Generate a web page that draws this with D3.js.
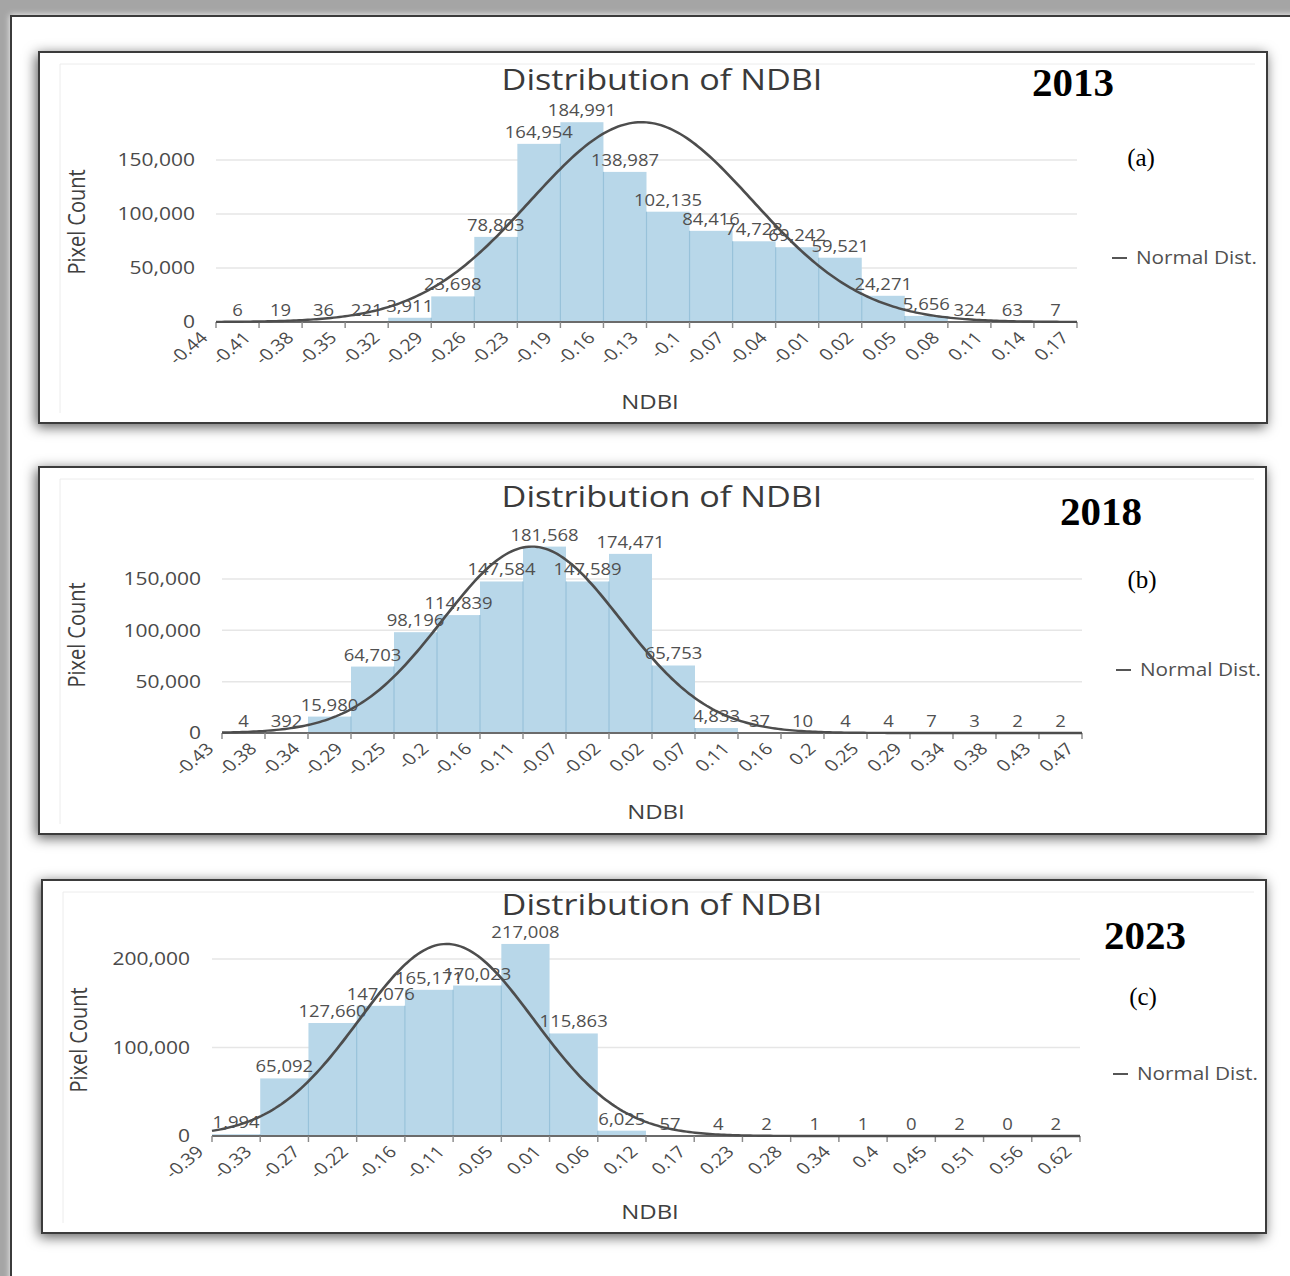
<!DOCTYPE html>
<html>
<head>
<meta charset="utf-8">
<script src="https://cdn.jsdelivr.net/npm/d3@7"></script>
<style>
  html, body { margin: 0; padding: 0; background: #a5a5a5; }
  svg { display: block; }
</style>
</head>
<body>
<svg id="fig" width="1290" height="1276"></svg>
<script>
// ---- data: NDBI histogram bin edges (tick labels) and pixel counts per bin ----
const years = ["2013", "2018", "2023"];
const panelTags = ["(a)", "(b)", "(c)"];

const edges2013 = ["-0.44","-0.41","-0.38","-0.35","-0.32","-0.29","-0.26","-0.23","-0.19","-0.16","-0.13",
                   "-0.1","-0.07","-0.04","-0.01","0.02","0.05","0.08","0.11","0.14","0.17"];
const counts2013 = [6, 19, 36, 221, 3911, 23698, 78803, 164954, 184991, 138987,
                    102135, 84416, 74728, 69242, 59521, 24271, 5656, 324, 63, 7];

const edges2018 = ["-0.43","-0.38","-0.34","-0.29","-0.25","-0.2","-0.16","-0.11","-0.07","-0.02","0.02",
                   "0.07","0.11","0.16","0.2","0.25","0.29","0.34","0.38","0.43","0.47"];
const counts2018 = [4, 392, 15980, 64703, 98196, 114839, 147584, 181568, 147589, 174471,
                    65753, 4833, 37, 10, 4, 4, 7, 3, 2, 2];

const edges2023 = ["-0.39","-0.33","-0.27","-0.22","-0.16","-0.11","-0.05","0.01","0.06","0.12",
                   "0.17","0.23","0.28","0.34","0.4","0.45","0.51","0.56","0.62"];
const counts2023 = [1994, 65092, 127660, 147076, 165171, 170023, 217008, 115863, 6025,
                    57, 4, 2, 1, 1, 0, 2, 0, 2];

const yTicks2013 = [0, 50000, 100000, 150000];
const yTicks2018 = [0, 50000, 100000, 150000];
const yTicks2023 = [0, 100000, 200000];

const chartTitle = "Distribution of NDBI";
const xTitle = "NDBI";
const yTitle = "Pixel Count";
const legendText = "Normal Dist.";

// ---- layout of each framed panel (page pixels) ----
const layout = [
  { box: [39, 52, 1228, 371],  x0: 216, x1: 1077, yBase: 322,  yRef: 160, yRefVal: 150000,
    yLabEnd: 195, yTitlePos: [78, 222],  titleY: 90,  xTitlePos: [650, 409],  legend: [1112, 258],
    yearPos: [1073, 96],  tagPos: [1141, 166] },
  { box: [39, 467, 1227, 367], x0: 222, x1: 1082, yBase: 733,  yRef: 579, yRefVal: 150000,
    yLabEnd: 201, yTitlePos: [78, 635],  titleY: 507, xTitlePos: [656, 819],  legend: [1116, 670],
    yearPos: [1101, 525], tagPos: [1142, 588] },
  { box: [42, 880, 1224, 353], x0: 212, x1: 1080, yBase: 1136, yRef: 959, yRefVal: 200000,
    yLabEnd: 190, yTitlePos: [80, 1040], titleY: 915, xTitlePos: [650, 1219], legend: [1113, 1074],
    yearPos: [1145, 949], tagPos: [1143, 1005] }
];

const panels = [
  { edges: edges2013, counts: counts2013, yTicks: yTicks2013 },
  { edges: edges2018, counts: counts2018, yTicks: yTicks2018 },
  { edges: edges2023, counts: counts2023, yTicks: yTicks2023 }
];

// chart graphics are a horizontally widened export
const SX = 1.2;
const FONT = "'Open Sans', 'Noto Sans', sans-serif";
const SERIF = "'Liberation Serif', 'Times New Roman', serif";

const svg = d3.select("#fig");
const defs = svg.append("defs");

const sh = defs.append("filter").attr("id", "shadow")
  .attr("x", "-10%").attr("y", "-10%").attr("width", "120%").attr("height", "125%");
sh.append("feDropShadow").attr("dx", -2).attr("dy", 3).attr("stdDeviation", 6.5)
  .attr("flood-color", "#000").attr("flood-opacity", 0.65);

const sh2 = defs.append("filter").attr("id", "glow")
  .attr("x", "-5%").attr("y", "-5%").attr("width", "110%").attr("height", "110%");
sh2.append("feDropShadow").attr("dx", 0).attr("dy", 0).attr("stdDeviation", 3)
  .attr("flood-color", "#fff").attr("flood-opacity", 0.9);

// outer page frame
svg.append("rect").attr("x", 11).attr("y", 16).attr("width", 1320).attr("height", 1320)
  .attr("fill", "#fff").attr("stroke", "#3a3a3a").attr("stroke-width", 2)
  .attr("filter", "url(#glow)");

panels.forEach((p, k) => {
  const L = layout[k];
  const [bx, by, bw, bh] = L.box;

  // framed panel with drop shadow
  svg.append("rect").attr("x", bx).attr("y", by).attr("width", bw).attr("height", bh)
    .attr("fill", "#fff").attr("stroke", "#3a3a3a").attr("stroke-width", 2)
    .attr("filter", "url(#shadow)");

  // faint edge of the embedded chart image
  svg.append("path")
    .attr("d", `M${bx + 21},${by + bh - 10}V${by + 12}H${bx + bw - 12}`)
    .attr("fill", "none").attr("stroke", "#ececec").attr("stroke-width", 1);

  const nBins = p.counts.length;
  const g = svg.append("g").attr("transform", `scale(${SX},1)`);

  const x = d3.scaleLinear().domain([0, nBins]).range([L.x0 / SX, L.x1 / SX]);
  const y = d3.scaleLinear().domain([0, L.yRefVal]).range([L.yBase, L.yRef]);
  const fmt = d3.format(",");

  // gridlines
  g.append("g").selectAll("line").data(p.yTicks.filter(v => v > 0)).join("line")
    .attr("x1", x(0)).attr("x2", x(nBins))
    .attr("y1", d => y(d)).attr("y2", d => y(d))
    .attr("stroke", "#e6e6e6").attr("stroke-width", 1.5);

  // y tick labels
  g.append("g").selectAll("text").data(p.yTicks).join("text")
    .attr("x", L.yLabEnd / SX).attr("y", d => y(d)).attr("dy", "0.36em")
    .attr("text-anchor", "end").attr("font-family", FONT).attr("font-size", 17.5)
    .attr("fill", "#4a4a4a").text(d => fmt(d));

  // histogram bars
  g.append("g").selectAll("rect").data(p.counts).join("rect")
    .attr("x", (d, i) => x(i)).attr("width", (d, i) => x(i + 1) - x(i))
    .attr("y", d => y(d)).attr("height", d => y(0) - y(d))
    .attr("fill", "#b8d7e9");

  // bar separators
  g.append("g").selectAll("path").data(p.counts).join("path")
    .attr("d", (d, i) => {
      const left = i === 0 ? 0 : p.counts[i - 1];
      const h = Math.min(d, left);
      return `M${x(i)},${y(0)}V${y(h)}`;
    })
    .attr("stroke", "#98c2da").attr("stroke-width", 1).attr("fill", "none");

  // normal curve fitted from the histogram's mean and spread, scaled to the tallest bin
  const total = d3.sum(p.counts);
  const mean = d3.sum(p.counts, (c, i) => c * (i + 0.5)) / total;
  const sd = Math.sqrt(d3.sum(p.counts, (c, i) => c * (i + 0.5 - mean) ** 2) / total);
  const peak = d3.max(p.counts);
  const samples = d3.range(0, nBins + 0.001, nBins / 300);
  const line = d3.line()
    .x(t => x(t))
    .y(t => y(peak * Math.exp(-0.5 * ((t - mean) / sd) ** 2)));

  // x axis baseline + ticks
  g.append("line").attr("x1", x(0)).attr("x2", x(nBins))
    .attr("y1", y(0)).attr("y2", y(0))
    .attr("stroke", "#6b6b6b").attr("stroke-width", 2);
  g.append("g").selectAll("line").data(p.edges).join("line")
    .attr("x1", (d, i) => x(i)).attr("x2", (d, i) => x(i))
    .attr("y1", y(0)).attr("y2", y(0) + 6)
    .attr("stroke", "#8a8a8a").attr("stroke-width", 1.2);

  g.append("path").datum(samples).attr("d", line)
    .attr("fill", "none").attr("stroke", "#4d4d4d").attr("stroke-width", 2.4);

  // rotated edge labels
  g.append("g").selectAll("text").data(p.edges).join("text")
    .attr("transform", (d, i) => `translate(${x(i) - 6},${y(0) + 17}) rotate(-45)`)
    .attr("text-anchor", "end").attr("font-family", FONT).attr("font-size", 16.3)
    .attr("fill", "#4a4a4a").text(d => d);

  // count labels above bars
  g.append("g").selectAll("text").data(p.counts).join("text")
    .attr("x", (d, i) => (x(i) + x(i + 1)) / 2).attr("y", d => y(d) - 6)
    .attr("text-anchor", "middle").attr("font-family", FONT).attr("font-size", 15.4)
    .attr("fill", "#505050").text(d => fmt(d));

  // titles
  g.append("text").attr("x", 662 / SX).attr("y", L.titleY)
    .attr("text-anchor", "middle").attr("font-family", FONT).attr("font-size", 28.5)
    .attr("fill", "#3a3a3a").text(chartTitle);
  g.append("text").attr("x", L.xTitlePos[0] / SX).attr("y", L.xTitlePos[1])
    .attr("text-anchor", "middle").attr("font-family", FONT).attr("font-size", 20)
    .attr("fill", "#404040").text(xTitle);
  g.append("text")
    .attr("transform", `translate(${(L.yTitlePos[0] + 7) / SX},${L.yTitlePos[1]}) rotate(-90)`)
    .attr("text-anchor", "middle").attr("font-family", FONT).attr("font-size", 20)
    .attr("fill", "#404040").text(yTitle);

  // legend
  g.append("line").attr("x1", L.legend[0] / SX).attr("x2", (L.legend[0] + 15) / SX)
    .attr("y1", L.legend[1]).attr("y2", L.legend[1])
    .attr("stroke", "#555").attr("stroke-width", 2);
  g.append("text").attr("x", (L.legend[0] + 24) / SX).attr("y", L.legend[1]).attr("dy", "0.36em")
    .attr("font-family", FONT).attr("font-size", 17.3).attr("fill", "#505050").text(legendText);

  // year and panel tag
  svg.append("text").attr("x", L.yearPos[0]).attr("y", L.yearPos[1])
    .attr("text-anchor", "middle").attr("font-family", SERIF).attr("font-weight", "bold")
    .attr("font-size", 41).attr("fill", "#000").text(years[k]);
  svg.append("text").attr("x", L.tagPos[0]).attr("y", L.tagPos[1])
    .attr("text-anchor", "middle").attr("font-family", SERIF)
    .attr("font-size", 25).attr("fill", "#000").text(panelTags[k]);
});
</script>
</body>
</html>
